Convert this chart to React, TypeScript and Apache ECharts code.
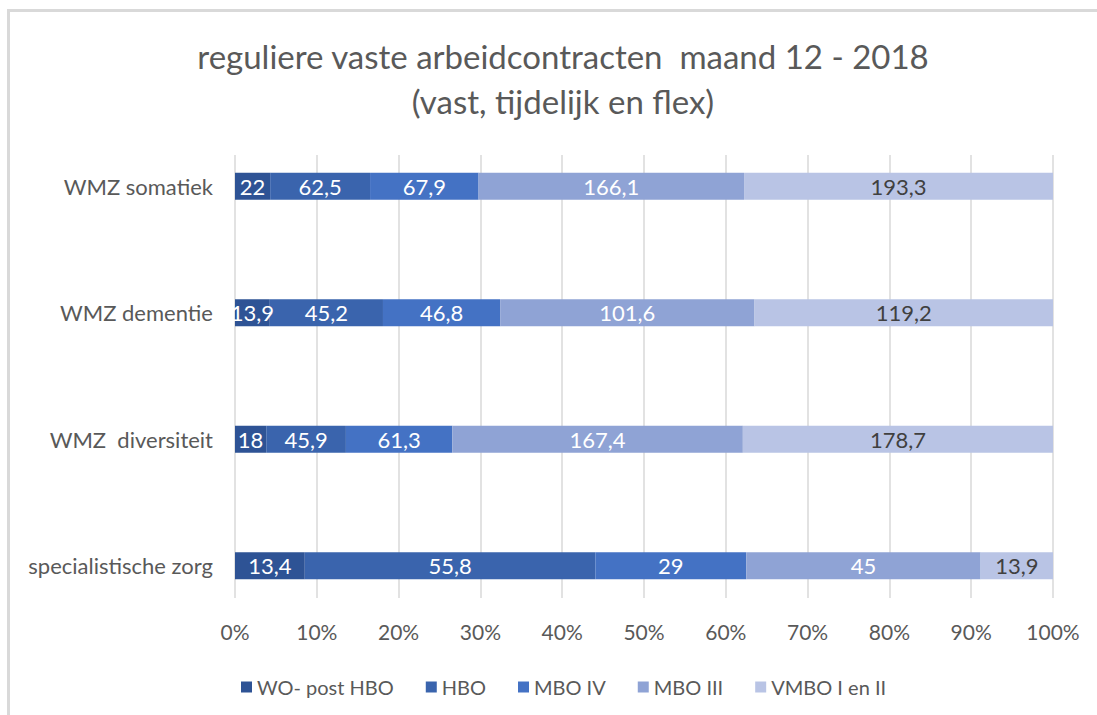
import React, { useEffect, useRef } from "react";
import * as echarts from "echarts";

const categories = ["WMZ somatiek", "WMZ dementie", "WMZ  diversiteit", "specialistische zorg"];
const seriesNames = ["WO- post HBO", "HBO", "MBO IV", "MBO III", "VMBO I en II"];
const woPostHbo = [22, 13.9, 18, 13.4];
const hbo = [62.5, 45.2, 45.9, 55.8];
const mboIV = [67.9, 46.8, 61.3, 29];
const mboIII = [166.1, 101.6, 167.4, 45];
const vmboIenII = [193.3, 119.2, 178.7, 13.9];
const seriesColors = ["#2E5395", "#3A64AD", "#4472C4", "#8FA3D5", "#B9C4E5"];
const labelColors = ["#ffffff", "#ffffff", "#ffffff", "#ffffff", "#404040"];
const titleText = "reguliere vaste arbeidcontracten  maand 12 - 2018\n(vast, tijdelijk en flex)";

const FONT = "Lato, 'Noto Sans', sans-serif";
const TEXT = "#595959";

export default function App() {
  const ref = useRef<HTMLDivElement>(null);
  useEffect(() => {
    if (!ref.current) return;
    const chart = echarts.init(ref.current, undefined, { renderer: "svg" });
    const all = [woPostHbo, hbo, mboIV, mboIII, vmboIenII];
    const totals = categories.map((_, i) => all.reduce((s, arr) => s + arr[i], 0));
    const series = all.map((arr, si) => ({
      name: seriesNames[si],
      type: "bar",
      stack: "total",
      xAxisIndex: 0,
      yAxisIndex: 0,
      barWidth: 27,
      itemStyle: { color: seriesColors[si] },
      label: {
        show: true,
        position: "inside",
        color: labelColors[si],
        fontSize: 22,
        fontFamily: FONT,
        formatter: (p: any) => String(p.data.raw).replace(".", ","),
      },
      data: arr.map((v, i) => ({ value: (v / totals[i]) * 100, raw: v })),
    }));
    chart.setOption({
      animation: false,
      textStyle: { fontFamily: FONT },
      title: {
        text: titleText,
        left: 558,
        textAlign: "center",
        top: 28,
        textStyle: { fontSize: 33, fontWeight: "normal", color: TEXT, lineHeight: 45, fontFamily: FONT },
      },
      legend: {
        data: seriesNames,
        left: 236,
        top: 672,
        icon: "rect",
        itemWidth: 11,
        itemHeight: 11,
        itemGap: 32,
        textStyle: { fontSize: 20, color: TEXT, fontFamily: FONT },
      },
      grid: [
        { left: 235, right: 44, top: 123, bottom: 86 },
        { left: 235, right: 44, top: 155, bottom: 117 },
      ],
      xAxis: [
        { type: "value", gridIndex: 0, min: 0, max: 100, show: false },
        {
          type: "value",
          gridIndex: 1,
          min: 0,
          max: 100,
          interval: 10,
          axisLine: { show: false },
          axisTick: { show: false },
          splitLine: { show: true, lineStyle: { color: "#d9d9d9", width: 1.5 } },
          axisLabel: { formatter: "{value}%", fontSize: 21, color: TEXT, margin: 23, fontFamily: FONT },
        },
      ],
      yAxis: [
        {
          type: "category",
          gridIndex: 0,
          inverse: true,
          data: categories,
          axisLine: { show: false },
          axisTick: { show: false },
          axisLabel: { fontSize: 22, color: TEXT, margin: 22, fontFamily: FONT },
        },
        { type: "value", gridIndex: 1, show: false },
      ],
      series,
    });
    return () => chart.dispose();
  }, []);
  return (
    <div style={{ position: "fixed", left: 0, top: 0, width: 1097, height: 715, overflow: "hidden", background: "#fff" }}>
      <div
        style={{
          position: "absolute",
          left: 7,
          top: 9,
          width: 1200,
          height: 800,
          borderLeft: "3px solid #d9d9d9",
          borderTop: "3px solid #d9d9d9",
        }}
      />
      <div ref={ref} style={{ position: "absolute", left: 0, top: 0, width: 1097, height: 715 }} />
    </div>
  );
}
